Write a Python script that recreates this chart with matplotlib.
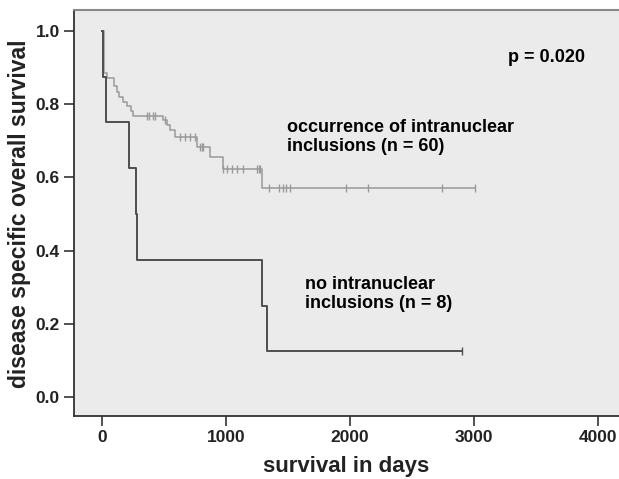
import numpy as np
import matplotlib.pyplot as plt

plt.rcParams["font.family"] = ["Liberation Sans", "DejaVu Sans"]
plt.rcParams["font.weight"] = "bold"

# group with intranuclear inclusions (n = 60): step times (days) and survival
incl_times = [0, 15, 39, 98, 119, 141, 173, 205, 232, 253, 490, 528, 550, 590,
              770, 872, 975, 1295, 3011]
incl_surv = [1.0, 0.885, 0.870, 0.849, 0.834, 0.818, 0.806, 0.795, 0.782, 0.768,
             0.757, 0.743, 0.729, 0.709, 0.683, 0.655, 0.624, 0.570, 0.570]
incl_censored = [362, 382, 410, 431, 510, 630, 671, 711, 751, 792, 805, 818,
                 975, 1007, 1047, 1093, 1141, 1254, 1265, 1276,
                 1351, 1432, 1459, 1486, 1518, 1970, 2150, 2742, 3011]

# group without intranuclear inclusions (n = 8)
noincl_times = [0, 6, 33, 219, 275, 286, 1295, 1330, 2910]
noincl_surv = [1.0, 0.875, 0.75, 0.625, 0.5, 0.375, 0.25, 0.125, 0.125]
noincl_censored = [2910]

light = "#9a9a9a"
dark = "#4e4e4e"


def surv_at(times, surv, t):
    idx = np.searchsorted(times, t, side="right") - 1
    return np.asarray(surv)[idx]


fig = plt.figure(figsize=(6.19, 4.79), dpi=100)
ax = fig.add_axes([0.1192, 0.1305, 0.8808, 0.8485])
ax.set_facecolor("#ebebeb")

ax.step(incl_times, incl_surv, where="post", color=light, lw=1.1, zorder=3)
ax.plot(incl_censored, surv_at(incl_times, incl_surv, incl_censored), "|",
        color=light, ms=6, mew=1.0, zorder=3)

ax.step(noincl_times, noincl_surv, where="post", color=dark, lw=1.4, zorder=4)
ax.plot(noincl_censored, surv_at(noincl_times, noincl_surv, noincl_censored), "|",
        color=dark, ms=6, mew=1.0, zorder=4)

ax.set_xlim(-227, 4173)
ax.set_ylim(-0.0524, 1.0565)
ax.set_xticks([0, 1000, 2000, 3000, 4000])
ax.set_yticks([0.0, 0.2, 0.4, 0.6, 0.8, 1.0])
ax.set_yticklabels(["0.0", "0.2", "0.4", "0.6", "0.8", "1.0"])
ax.tick_params(axis="both", length=7.5, width=1.3, color="#444444", pad=2.5)
for lab in ax.get_xticklabels() + ax.get_yticklabels():
    lab.set_fontfamily(["Liberation Sans Narrow", "Liberation Sans"])
    lab.set_fontsize(12.5)
    lab.set_fontweight("bold")
    lab.set_color("#222222")

for side in ["left", "bottom"]:
    ax.spines[side].set_color("#333333")
    ax.spines[side].set_linewidth(1.3)
ax.spines["top"].set_color("#888888")
ax.spines["top"].set_linewidth(1.5)
ax.spines["right"].set_visible(False)

ax.set_xlabel("survival in days", fontsize=16, fontweight="bold", labelpad=8,
              color="#222222")
ax.set_ylabel("disease specific overall survival", fontsize=16.5,
              fontweight="bold", labelpad=3.5, color="#222222")

ax.text(3278, 0.928, "p = 0.020", fontsize=13, fontweight="bold", va="center")
ax.text(1495, 0.710, "occurrence of intranuclear\ninclusions (n = 60)",
        fontsize=13, fontweight="bold", va="center", linespacing=1.2)
ax.text(1640, 0.282, "no intranuclear\ninclusions (n = 8)",
        fontsize=13, fontweight="bold", va="center", linespacing=1.2)

fig.savefig("out.png", dpi=100)
